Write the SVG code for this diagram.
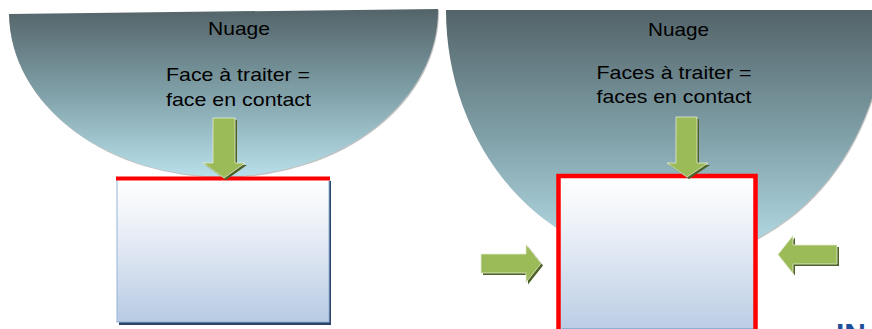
<svg xmlns="http://www.w3.org/2000/svg" width="872" height="329" viewBox="0 0 872 329">
  <defs>
    <linearGradient id="cloudFill" x1="0" y1="0" x2="0" y2="1">
      <stop offset="0" stop-color="#536469"/>
      <stop offset="0.5" stop-color="#80a0a8"/>
      <stop offset="1" stop-color="#b8e0ea"/>
    </linearGradient>
    <linearGradient id="boxFill" x1="0" y1="0" x2="0" y2="1">
      <stop offset="0" stop-color="#ffffff"/>
      <stop offset="0.3" stop-color="#eef2f8"/>
      <stop offset="1" stop-color="#b8cbe4"/>
    </linearGradient>
    <style>
      .cloud { fill: url(#cloudFill); }
      .cloud-shadow { fill: #777777; opacity: 0.45; }
      .box { fill: url(#boxFill); }
      .arrow { fill: #9bbb59; stroke: #e3ecd0; stroke-width: 0.8; }
      .arrow-shadow { fill: #4f6228; }
      .label { font-family: "Liberation Sans", Arial, sans-serif; font-size: 19px; fill: #000000; text-anchor: middle; }
    </style>
  </defs>

  <!-- left scene: single contact face -->
  <g id="cloud-left">
    <path class="cloud-shadow" d="M 9.5 15 A 214.5 165 -0.67 0 0 439 10 Z"/>
    <path class="cloud" d="M 9 14 A 214.5 165 -0.67 0 0 438 9 Z"/>
    <text class="label" x="239" y="35" textLength="62" lengthAdjust="spacingAndGlyphs">Nuage</text>
    <text class="label" x="238" y="81" textLength="144" lengthAdjust="spacingAndGlyphs">Face à traiter =</text>
    <text class="label" x="238.5" y="106" textLength="145" lengthAdjust="spacingAndGlyphs">face en contact</text>
  </g>

  <g id="box-left">
    <rect x="119" y="181" width="212" height="144" fill="#2a4568"/>
    <rect class="box" x="117" y="179" width="212" height="143" stroke="#95b3d7" stroke-width="1"/>
    <rect x="116" y="176.5" width="214" height="4" fill="#ff0000"/>
  </g>

  <!-- right scene: three contact faces -->
  <g id="cloud-right">
    <path class="cloud-shadow" d="M 447 11 A 220 251 0 0 0 887 11 Z"/>
    <path class="cloud" d="M 446 10 A 220 251 0 0 0 886 10 Z"/>
    <text class="label" x="678.5" y="36" textLength="61" lengthAdjust="spacingAndGlyphs">Nuage</text>
    <text class="label" x="674" y="79" textLength="155" lengthAdjust="spacingAndGlyphs">Faces à traiter =</text>
    <text class="label" x="674" y="103" textLength="155" lengthAdjust="spacingAndGlyphs">faces en contact</text>
  </g>

  <g id="box-right">
    <rect class="box" x="558.5" y="176" width="197" height="160" stroke="#ff0000" stroke-width="4.5"/>
    <line x1="562" y1="328.5" x2="753" y2="328.5" stroke="#8eaed6" stroke-width="1"/>
  </g>

  <!-- push arrows -->
  <g id="connectors">
    <g id="arrow-down-left">
      <path class="arrow-shadow" d="M215 120 H237 V165 H247 L226 180 L205 165 H215 Z"/>
      <path class="arrow" d="M213 118 H235 V163 H245 L224 178 L203 163 H213 Z"/>
    </g>
    <g id="arrow-down-right">
      <path class="arrow-shadow" d="M678 119 H699 V165 H710 L689 179 L669 165 H678 Z"/>
      <path class="arrow" d="M676 117 H697 V163 H708 L687 177 L667 163 H676 Z"/>
    </g>
    <g id="arrow-from-left">
      <path class="arrow-shadow" d="M483 256 H528 V246.5 L543 265.5 L528 284.5 V275 H483 Z"/>
      <path class="arrow" d="M481 254 H526 V244.5 L541 263.5 L526 282.5 V273 H481 Z"/>
    </g>
    <g id="arrow-from-right">
      <path class="arrow-shadow" d="M839 247 H795 V237.5 L780 256.5 L795 275.5 V266 H839 Z"/>
      <path class="arrow" d="M837 245 H793 V235.5 L778 254.5 L793 273.5 V264 H837 Z"/>
    </g>
  </g>

  <!-- logo lettering running off the lower edge -->
  <g id="logo">
    <text x="836" y="344" font-family="Liberation Sans, Arial, sans-serif" font-size="30" font-weight="bold" fill="#1d4f9c">IN</text>
  </g>
</svg>
